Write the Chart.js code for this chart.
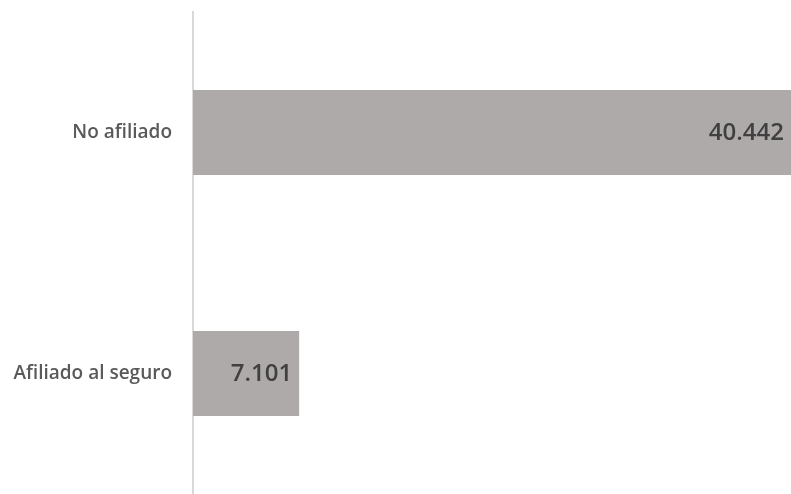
<!DOCTYPE html>
<html>
<head>
<meta charset="utf-8">
<script src="https://cdn.jsdelivr.net/npm/chart.js@4.4.0/dist/chart.umd.min.js"></script>
<style>
  html, body { margin: 0; padding: 0; background: #fff; }
  #wrap { width: 791px; height: 494px; position: relative; }
</style>
</head>
<body>
<div id="wrap"><canvas id="chart"></canvas></div>
<script>
// --- Data ---
const categories = ['No afiliado', 'Afiliado al seguro'];
const values = [40442, 7101];
const valueLabels = ['40.442', '7.101'];

// --- Value labels drawn inside the bar end ---
const endLabels = {
    id: 'endLabels',
    afterDatasetsDraw(chart) {
        const ctx = chart.ctx;
        const meta = chart.getDatasetMeta(0);
        const area = chart.chartArea;
        ctx.save();
        ctx.font = '600 24px "Open Sans"';
        ctx.fillStyle = '#404040';
        ctx.textAlign = 'right';
        ctx.textBaseline = 'middle';
        meta.data.forEach((bar, i) => {
            const x = Math.min(bar.x, area.right) - 7;
            ctx.fillText(valueLabels[i], x, bar.y + 1);
        });
        ctx.restore();
    }
};

const ctx = document.getElementById('chart').getContext('2d');
new Chart(ctx, {
    type: 'bar',
    data: {
        labels: categories,
        datasets: [{
            data: values,
            backgroundColor: '#AEAAAA',
            borderWidth: 0,
            categoryPercentage: 1,
            barPercentage: 0.353
        }]
    },
    options: {
        indexAxis: 'y',
        responsive: true,
        maintainAspectRatio: false,
        animation: false,
        layout: { padding: { top: 12, right: 0, bottom: 0, left: 0 } },
        plugins: {
            legend: { display: false },
            tooltip: { enabled: false }
        },
        scales: {
            x: {
                display: false,
                min: 0,
                max: 40000
            },
            y: {
                // transparent ticks give the label gap without padding the chart area
                grid: { display: true, drawOnChartArea: false, drawTicks: true, tickLength: 21, color: 'rgba(0,0,0,0)' },
                border: { display: true, color: '#D9D9D9', width: 2 },
                ticks: {
                    color: '#595959',
                    font: { family: 'Open Sans', size: 19, weight: '600', lineHeight: 0.01 },
                    padding: 0
                },
                afterFit: (scale) => { scale.width = 193; }
            }
        }
    },
    plugins: [endLabels]
});
</script>
</body>
</html>
